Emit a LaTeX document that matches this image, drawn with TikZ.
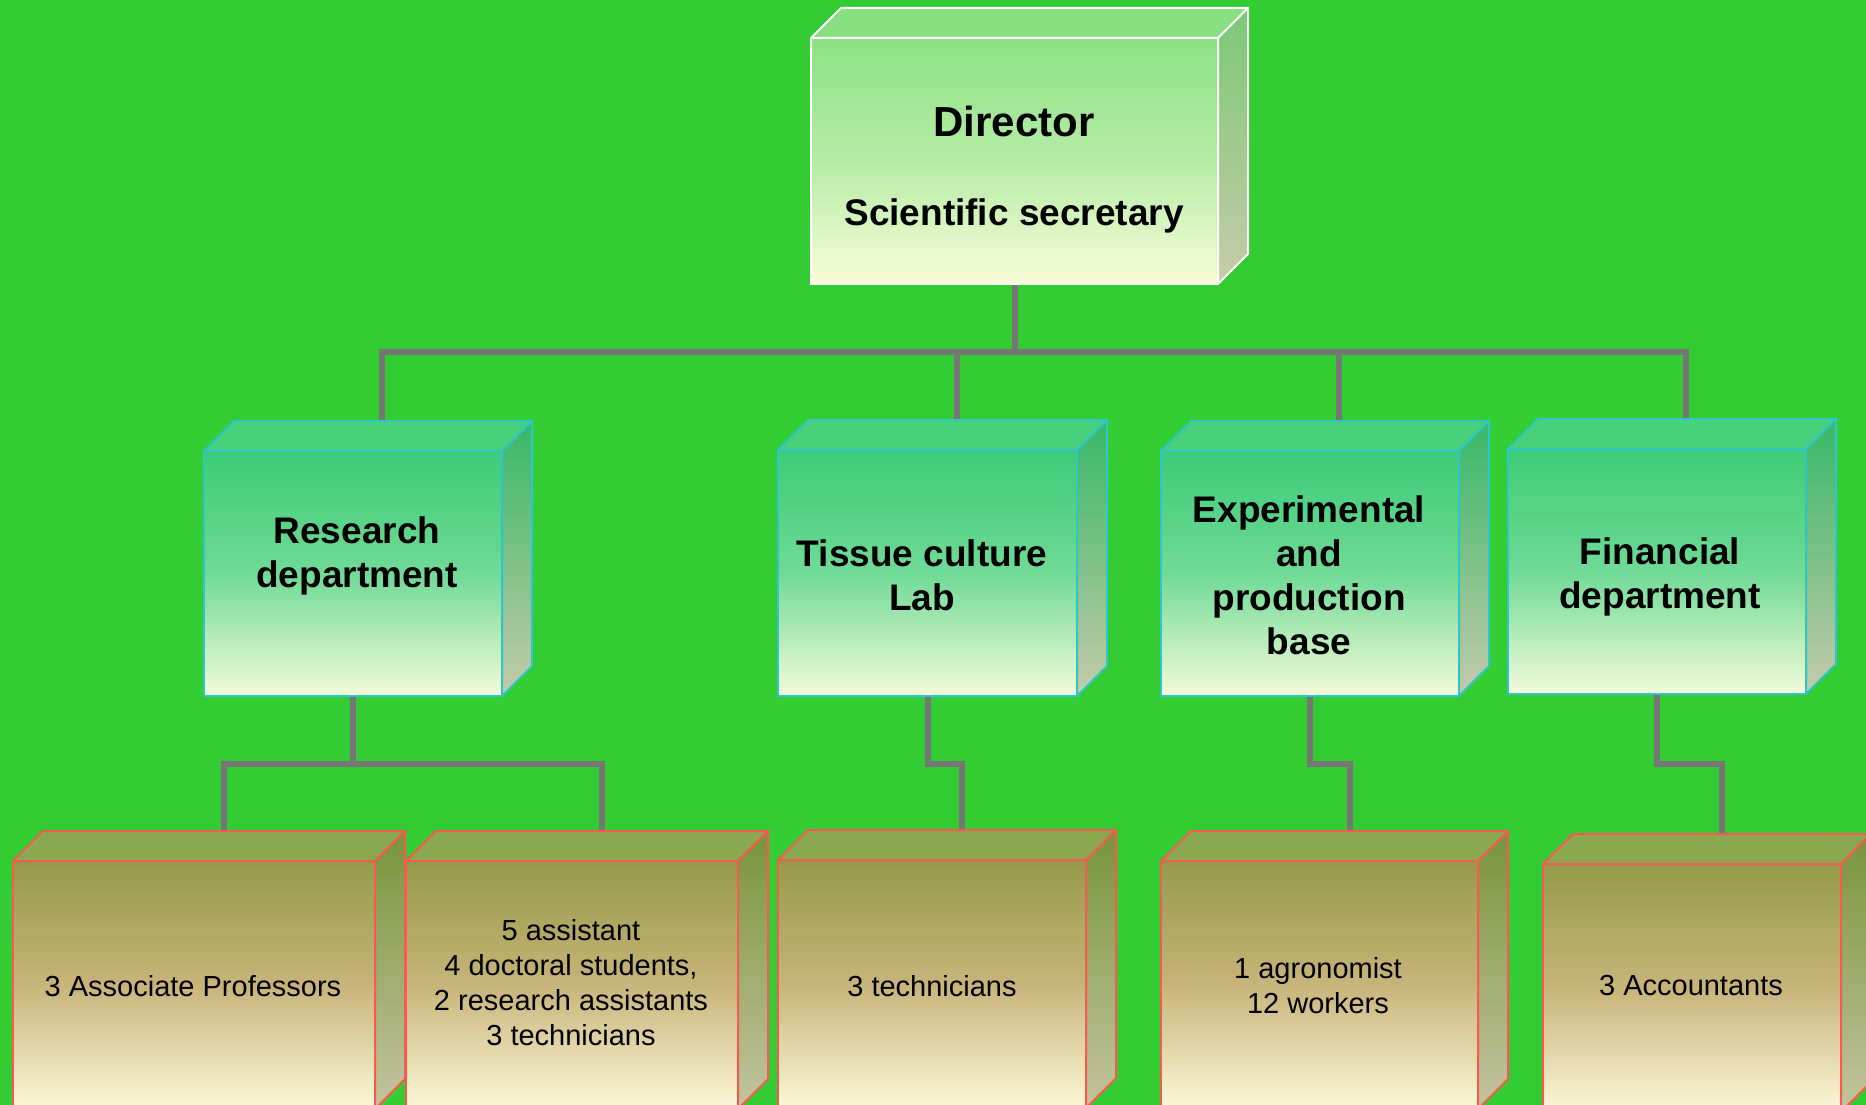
\documentclass[tikz,border=0pt]{standalone}
\usepackage{fontspec}
\setmainfont{Liberation Sans}
\usetikzlibrary{calc}
\definecolor{bgc}{RGB}{51,204,51}
\definecolor{connc}{RGB}{118,118,118}
% director
\definecolor{dirA}{RGB}{140,225,133}
\definecolor{dirM}{RGB}{182,236,166}
\definecolor{dirB}{RGB}{249,252,218}
\definecolor{dirT}{RGB}{136,224,128}
\definecolor{dirS1}{RGB}{123,201,119}
\definecolor{dirS2}{RGB}{198,203,168}
% middle
\definecolor{midA}{RGB}{60,204,120}
\definecolor{midM}{RGB}{112,218,150}
\definecolor{midB}{RGB}{244,251,218}
\definecolor{midT}{RGB}{72,208,122}
\definecolor{midS1}{RGB}{53,184,102}
\definecolor{midS2}{RGB}{197,203,170}
\definecolor{midL}{RGB}{46,198,200}
% low
\definecolor{lowA}{RGB}{148,154,72}
\definecolor{lowM}{RGB}{200,180,122}
\definecolor{lowB}{RGB}{252,248,215}
\definecolor{lowT}{RGB}{138,168,80}
\definecolor{lowS1}{RGB}{120,148,58}
\definecolor{lowS2}{RGB}{196,196,160}
\definecolor{lowL}{RGB}{250,88,80}
\pgfdeclarelayer{back}
\pgfsetlayers{back,main}
\newcommand\cubefaces[2]{%
  \draw[#2 topface] (#1.north west) -- ++(30,-30) -- ($(#1.north east)+(30,-30)$) -- (#1.north east) -- cycle;
  \draw[#2 sideface] (#1.north east) -- ++(30,-30) -- ($(#1.south east)+(30,-30)$) -- (#1.south east) -- cycle;
}
\begin{document}
\begin{tikzpicture}[x=1pt,y=-1pt,
  every node/.style={inner sep=0pt,outer sep=0pt},
  conn/.style={draw=connc,line width=6pt},
  dir front/.style={draw=white,line width=2pt,shading=axis,top color=dirA,bottom color=dirB,middle color=dirM,anchor=north west},
  dir topface/.style={draw=white,line width=2pt,fill=dirT,line join=round},
  dir sideface/.style={draw=white,line width=2pt,top color=dirS1,bottom color=dirS2,line join=round},
  mid front/.style={draw=midL,line width=2pt,shading=axis,top color=midA,bottom color=midB,middle color=midM,anchor=north west},
  mid topface/.style={draw=midL,line width=2pt,fill=midT,line join=round},
  mid sideface/.style={draw=midL,line width=2pt,top color=midS1,bottom color=midS2,line join=round},
  low front/.style={draw=lowL,line width=2pt,shading=axis,top color=lowA,bottom color=lowB,middle color=lowM,anchor=north west},
  low topface/.style={draw=lowL,line width=2pt,fill=lowT,line join=round},
  low sideface/.style={draw=lowL,line width=2pt,top color=lowS1,bottom color=lowS2,line join=round},
  hitext/.style={font=\fontsize{37}{44}\selectfont\bfseries,align=center,text=black},
  toptext/.style={font=\fontsize{42}{50}\selectfont\bfseries,align=center,text=black},
  lowtext/.style={font=\fontsize{29}{35}\selectfont,align=center,text=black}]
\useasboundingbox (0,0) rectangle (1866,1105);
\clip (0,0) rectangle (1866,1105);
% boxes
\node[dir front,minimum width=407pt,minimum height=246pt] (dir) at (811,38) {};
\cubefaces{dir}{dir}
\node[mid front,minimum width=298pt,minimum height=245pt] (res) at (204,451) {};
\cubefaces{res}{mid}
\node[mid front,minimum width=299pt,minimum height=246pt] (tis) at (778,450) {};
\cubefaces{tis}{mid}
\node[mid front,minimum width=298pt,minimum height=245pt] (exp) at (1161,451) {};
\cubefaces{exp}{mid}
\node[mid front,minimum width=298pt,minimum height=245pt] (fin) at (1508,449) {};
\cubefaces{fin}{mid}
\node[low front,minimum width=362pt,minimum height=248pt] (ap) at (13,861) {};
\cubefaces{ap}{low}
\node[low front,minimum width=332pt,minimum height=248pt] (asst) at (406,861) {};
\cubefaces{asst}{low}
\node[low front,minimum width=308pt,minimum height=248pt] (tech) at (778,860) {};
\cubefaces{tech}{low}
\node[low front,minimum width=317pt,minimum height=248pt] (agro) at (1161,861) {};
\cubefaces{agro}{low}
\node[low front,minimum width=298pt,minimum height=248pt] (acc) at (1543,864) {};
\cubefaces{acc}{low}
% texts
\node[toptext] (dir-t) at (1014,121) {Director};
\node[hitext] (sec-t) at (1014,216) {Scientific secretary};
\node[hitext] (res-t) at (357,556) {Research\\department};
\node[hitext] (tis-t) at (922,575) {Tissue culture\\Lab};
\node[hitext] (exp-t) at (1309,575) {Experimental\\and\\production\\base};
\node[hitext] (fin-t) at (1660,577) {Financial\\department};
\node[lowtext] (ap-t) at (193,986) {3 Associate Professors};
\node[lowtext] (asst-t) at (571,983) {5 assistant\\4 doctoral students,\\2 research assistants\\3 technicians};
\node[lowtext] (tech-t) at (932,986) {3 technicians};
\node[lowtext] (agro-t) at (1318,986) {1 agronomist\\12 workers};
\node[lowtext] (acc-t) at (1691,986) {3 Accountants};
% background and connectors
\begin{pgfonlayer}{back}
\fill[bgc] (0,0) rectangle (1866,1105);
\coordinate (bus) at (0,352);
\draw[conn] (dir.south) -- (dir.south |- bus) -| ($(res.north)+(29,-29)$);
\draw[conn] (dir.south) -- (dir.south |- bus) -| ($(tis.north)+(29,-29)$);
\draw[conn] (dir.south) -- (dir.south |- bus) -| ($(exp.north)+(29,-29)$);
\draw[conn] (dir.south) -- (dir.south |- bus) -| ($(fin.north)+(29,-29)$);
\draw[conn] (res.south) -- ($(res.south)+(0,68)$) -| ($(ap.north)+(30,-30)$);
\draw[conn] (res.south) -- ($(res.south)+(0,68)$) -| ($(asst.north)+(30,-30)$);
\draw[conn] (tis.south) -- ($(tis.south)+(0,68)$) -| ($(tech.north)+(30,-30)$);
\draw[conn] (exp.south) -- ($(exp.south)+(0,68)$) -| ($(agro.north)+(30,-30)$);
\draw[conn] (fin.south) -- ($(fin.south)+(0,70)$) -| ($(acc.north)+(30,-30)$);
\end{pgfonlayer}
\end{tikzpicture}
\end{document}
